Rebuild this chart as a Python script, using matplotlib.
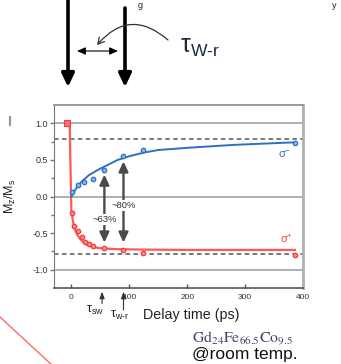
import matplotlib
matplotlib.use("Agg")
import matplotlib.pyplot as plt
from matplotlib.ticker import FixedLocator, FormatStrFormatter

plt.rcParams['font.family'] = ['Liberation Sans', 'DejaVu Sans']
plt.rcParams['axes.unicode_minus'] = False
plt.rcParams['mathtext.fontset'] = 'custom'
plt.rcParams['mathtext.rm'] = 'Liberation Sans'
plt.rcParams['mathtext.it'] = 'Liberation Sans:italic'
plt.rcParams['mathtext.sf'] = 'Liberation Sans'

# ---- data: normalised magnetisation vs. pump-probe delay ----
# sigma- helicity (blue): measured points
t_minus = [-7, 1, 11, 21, 37, 57, 90, 123, 386]
m_minus = [1.0, 0.06, 0.16, 0.20, 0.24, 0.36, 0.55, 0.63, 0.73]
# sigma- fitted recovery curve
fit_t_minus = [0, 5, 10, 15, 20, 30, 45, 60, 80, 100, 125, 150, 200, 280, 340, 386]
fit_m_minus = [0.0, 0.07, 0.13, 0.18, 0.22, 0.29, 0.36, 0.42, 0.50, 0.55, 0.60, 0.635, 0.665, 0.705, 0.725, 0.74]

# sigma+ helicity (red): measured points
t_plus = [-7, 1, 5, 11, 18, 24, 30, 38, 57, 90, 123, 386]
m_plus = [1.0, -0.22, -0.40, -0.47, -0.56, -0.62, -0.65, -0.67, -0.71, -0.73, -0.77, -0.80]
# sigma+ fitted switching curve
fit_t_plus = [-9, -3, 0, 3, 6, 10, 15, 20, 30, 40, 55, 80, 120, 200, 386]
fit_m_plus = [1.0, 1.0, -0.20, -0.35, -0.45, -0.52, -0.58, -0.62, -0.67, -0.695, -0.71, -0.72, -0.725, -0.73, -0.73]

# reference levels
solid_levels = [1.0, 0.0, -1.0]
dashed_levels = [0.78, -0.78]

# switching / recovery markers
arrow_t = [57, 90]
arrow_top = [0.30, 0.48]
arrow_bottom = [-0.63, -0.63]
arrow_labels = ['~63%', '~80%']
arrow_label_y = [-0.31, -0.12]

x_ticks = [0, 100, 200, 300, 400]
y_ticks = [-1.0, -0.5, 0.0, 0.5, 1.0]
y_minor = [-0.75, -0.25, 0.25, 0.75]

blue = '#2f6fc2'
red = '#f23c3c'
grey = '#4a4a4a'

fig = plt.figure(figsize=(3.41, 3.64), dpi=100)
ax = fig.add_axes([54 / 341, 1 - 288 / 364, 249 / 341, 183 / 364])
ax.set_xlim(-30, 400)
ax.set_ylim(-1.25, 1.25)

for lv in solid_levels:
    ax.axhline(lv, color='#9a9a9a', lw=1.1, zorder=1)
for lv in dashed_levels:
    ax.axhline(lv, color='#555555', lw=1.1, ls=(0, (3, 2.2)), zorder=1)

ax.plot(fit_t_plus, fit_m_plus, color='#ff5858', lw=1.6, zorder=3)
ax.plot(fit_t_minus, fit_m_minus, color=blue, lw=1.4, zorder=3)
ax.plot(t_plus, m_plus, 'o', ms=3.2, mfc='#ff8a8a', mec=red, mew=0.9, zorder=4)
ax.plot(t_minus[1:], m_minus[1:], 'o', ms=3.2, mfc='#8ab4ea', mec=blue, mew=0.9, zorder=4)
ax.plot(t_minus[0], m_minus[0], 's', ms=4.5, mfc='#ff7070', mec=red, mew=0.8, zorder=5)

for t, top, bot, lab, ly in zip(arrow_t, arrow_top, arrow_bottom, arrow_labels, arrow_label_y):
    ax.annotate('', xy=(t, top), xytext=(t, bot),
                arrowprops=dict(arrowstyle='<|-|>,head_length=0.6,head_width=0.28',
                                color=grey, lw=1.7, shrinkA=0, shrinkB=0), zorder=5)
    ax.text(t, ly, lab, ha='center', va='center', fontsize=6.8, color='#333333',
            bbox=dict(facecolor='white', edgecolor='none', pad=0.6), zorder=6)

ax.text(369, 0.57, r'$\mathrm{\sigma}^{-}$', color=blue, fontsize=8, ha='center', va='center')
ax.text(372, -0.585, r'$\mathrm{\sigma}^{+}$', color=red, fontsize=8, ha='center', va='center')

# axes styling
ax.spines['left'].set_color('#777777')
ax.spines['bottom'].set_color('#555555')
ax.spines['bottom'].set_linewidth(1.2)
ax.spines['top'].set_color('#8a8a8a')
ax.spines['top'].set_linewidth(1.2)
ax.spines['right'].set_color('#b0b0b0')
ax.spines['right'].set_linewidth(2.0)

ax.xaxis.set_major_locator(FixedLocator(x_ticks))
ax.yaxis.set_major_locator(FixedLocator(y_ticks))
ax.yaxis.set_minor_locator(FixedLocator(y_minor))
ax.yaxis.set_major_formatter(FormatStrFormatter('%.1f'))
ax.tick_params(axis='x', direction='in', length=3, width=1, color='#555555',
               labelsize=6, labelcolor='#333333', pad=4)
ax.tick_params(axis='y', which='major', direction='out', length=3, width=1,
               color='#777777', labelsize=6.5, labelcolor='#333333', pad=1.5)
ax.tick_params(axis='y', which='minor', direction='out', length=2.5, width=1, color='#777777')

ax.set_ylabel(r'$\mathrm{M_z/M_s}$', fontsize=9, color='#222222')
ax.yaxis.set_label_coords(-0.145, 0.5)
ax.set_xlabel('Delay time (ps)', fontsize=10.3, color='#222222')
ax.xaxis.set_label_coords(0.552, -0.11)

# switching time markers under the axis
tau_t = [53, 90]
tau_tail = [-0.085, -0.12]
tau_labels = [r'$\mathrm{\tau_{sw}}$', r'$\mathrm{\tau_{w\text{-}r}}$']
tau_label_x = [41, 83]
tau_label_y = [-0.125, -0.15]
for t, tail in zip(tau_t, tau_tail):
    ax.annotate('', xy=(t, -0.02), xytext=(t, tail),
                xycoords=('data', 'axes fraction'), textcoords=('data', 'axes fraction'),
                arrowprops=dict(arrowstyle='-|>,head_length=0.4,head_width=0.15',
                                color='#333333', lw=0.8, shrinkA=0, shrinkB=0),
                annotation_clip=False)
for lab, lx, ly in zip(tau_labels, tau_label_x, tau_label_y):
    ax.text(lx, ly, lab, transform=ax.get_xaxis_transform(), ha='center', va='center',
            fontsize=9, color='#222222')

# schematic and caption around the plot (pixel coordinates)
ov = fig.add_axes([0, 0, 1, 1])
ov.set_xlim(0, 341)
ov.set_ylim(364, 0)
ov.axis('off')

ov.annotate('', xy=(68, 87), xytext=(68, -5),
            arrowprops=dict(arrowstyle='-|>,head_length=0.8,head_width=0.38',
                            color='black', lw=2.6, shrinkA=0, shrinkB=0, mutation_scale=10))
ov.annotate('', xy=(125, 87), xytext=(125, 8),
            arrowprops=dict(arrowstyle='-|>,head_length=0.8,head_width=0.38',
                            color='black', lw=2.6, shrinkA=0, shrinkB=0, mutation_scale=10))
ov.annotate('', xy=(118, 51), xytext=(77, 51),
            arrowprops=dict(arrowstyle='<|-|>,head_length=0.5,head_width=0.22',
                            color='black', lw=0.8, shrinkA=0, shrinkB=0, mutation_scale=10))
ov.annotate('', xy=(97, 45), xytext=(168, 40),
            arrowprops=dict(arrowstyle='->,head_length=0.45,head_width=0.25',
                            connectionstyle='arc3,rad=0.5',
                            color='#333333', lw=0.9, shrinkA=0, shrinkB=0))
ov.text(180, 47, r'$\mathrm{\tau_{W\text{-}r}}$', fontsize=18, color='#1c2742',
        ha='left', va='center')

ov.text(140, 0.5, 'g', fontsize=6.5, color='#222222', ha='center', va='top')
ov.text(334, 0.5, 'y', fontsize=6.5, color='#222222', ha='center', va='top')
ov.plot([10, 10], [117, 125], color='#999999', lw=1.6)
ov.plot([0, 53], [317, 366], color='#ff6a6a', lw=1.0)

ov.text(242, 338, r'$\mathrm{Gd_{24}Fe_{66.5}Co_{9.5}}$', fontsize=11.3, color='#3d4466',
        ha='center', va='center', math_fontfamily='stix')
ov.text(245, 355, '@room temp.', fontsize=12.5, color='#111111', ha='center', va='center')

fig.savefig('out.png', dpi=100)
